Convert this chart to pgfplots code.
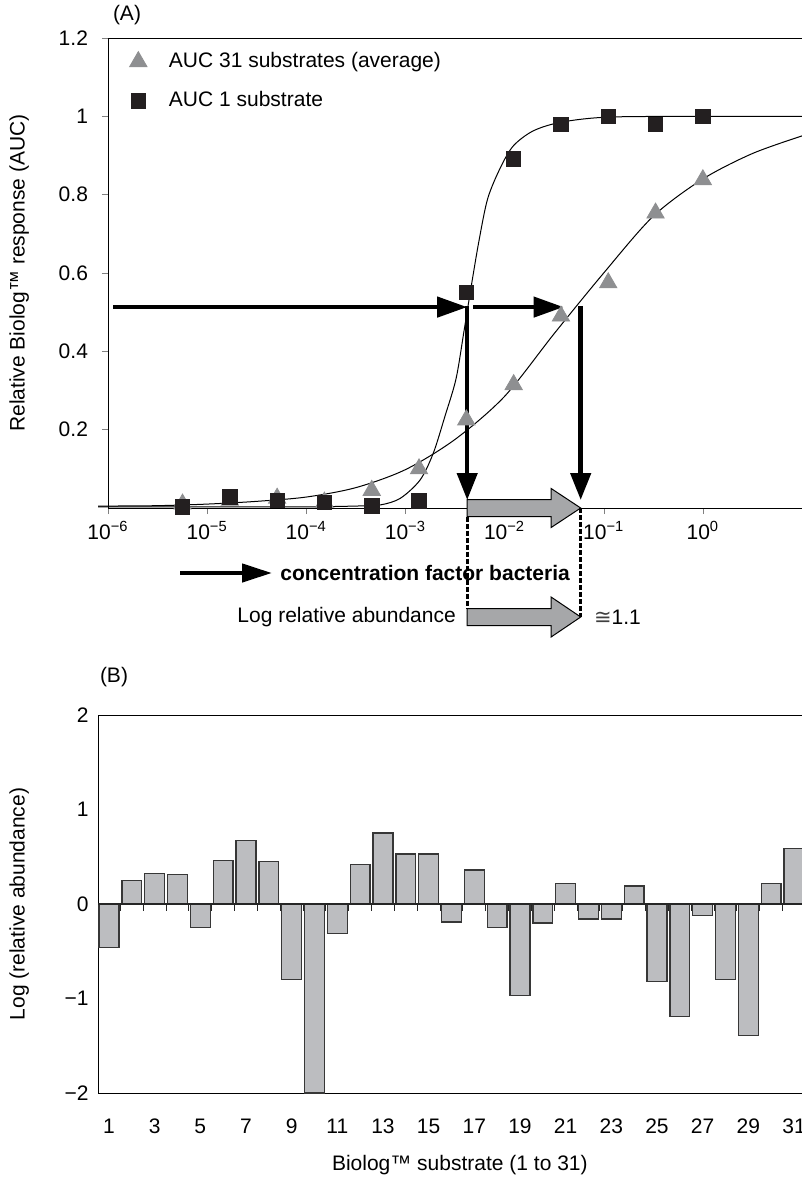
\documentclass[border=0pt]{standalone}
\usepackage{fontspec}
\setmainfont{Liberation Sans}
\newfontfamily\symfont{DejaVu Sans}
\usepackage{pgfplots}
\usepackage{pgfplotstable}
\pgfplotsset{compat=1.18}
\usetikzlibrary{arrows.meta}

\definecolor{trigray}{RGB}{142,143,145}
\definecolor{sqblack}{RGB}{35,31,32}
\definecolor{bargray}{RGB}{188,189,192}
\definecolor{bardraw}{RGB}{55,55,55}
\definecolor{blockgray}{RGB}{166,167,169}

\newcommand{\fs}{\fontsize{10.5}{12.6}\selectfont}

% dilution series 3^-k, k = 11..0
\pgfplotstableread{
x y
5.645e-6 0.010
1.694e-5 0.020
5.081e-5 0.025
1.524e-4 0.015
4.572e-4 0.045
1.372e-3 0.100
4.115e-3 0.225
1.235e-2 0.315
3.704e-2 0.490
0.1111 0.575
0.3333 0.753
1.0 0.838
}\tridata

\pgfplotstableread{
x y
5.645e-6 0.003
1.694e-5 0.028
5.081e-5 0.020
1.524e-4 0.015
4.572e-4 0.005
1.372e-3 0.018
4.115e-3 0.550
1.235e-2 0.891
3.704e-2 0.980
0.1111 1.000
0.3333 0.980
1.0 1.000
}\sqdata

% fitted curves
\pgfplotstableread{
x y
7.94e-7 0.003
1e-5 0.003
1e-4 0.003
3.16e-4 0.005
5.62e-4 0.008
8.91e-4 0.025
1.41e-3 0.072
1.91e-3 0.140
2.51e-3 0.235
3.24e-3 0.330
3.89e-3 0.450
4.57e-3 0.560
5.50e-3 0.680
6.76e-3 0.790
9.12e-3 0.870
1.23e-2 0.925
1.95e-2 0.963
3.72e-2 0.985
0.11 0.998
1 1.000
10 1.000
}\sqfit

\pgfplotstableread{
x y
7.94e-7 0.005
1e-6 0.005
3.16e-6 0.006
1e-5 0.010
3.16e-5 0.017
1e-4 0.028
3.16e-4 0.052
1e-3 0.098
3.16e-3 0.175
1e-2 0.285
3.16e-2 0.445
0.1 0.600
0.316 0.745
1 0.840
3.16 0.905
10 0.950
}\trifit

\pgfplotstableread{
n v
1 -0.46
2 0.25
3 0.32
4 0.31
5 -0.25
6 0.46
7 0.67
8 0.45
9 -0.80
10 -2.00
11 -0.31
12 0.42
13 0.75
14 0.53
15 0.53
16 -0.19
17 0.36
18 -0.25
19 -0.97
20 -0.20
21 0.22
22 -0.16
23 -0.16
24 0.19
25 -0.82
26 -1.19
27 -0.12
28 -0.80
29 -1.39
30 0.22
31 0.59
}\bardata

\begin{document}
\begin{tikzpicture}[font=\fs]
\useasboundingbox (0,0) rectangle (401pt,-591.5pt);

\node[anchor=center] at (63.5pt,-7.5pt) {(A)};
\node[anchor=center] at (57pt,-338.5pt) {(B)};

\begin{axis}[
  at={(54pt,-254pt)}, anchor=south west,
  scale only axis, width=347pt, height=235pt,
  xmode=log, xmin=1e-6, xmax=10, ymin=0, ymax=1.2,
  axis x line*=box, axis y line*=left,
  xtick pos=left, ytick pos=left,
  tick align=outside, major tick length=3pt,
  xminorticks=false,
  xtick={1e-6,1e-5,1e-4,1e-3,1e-2,1e-1,1},
  xticklabels={10\textsuperscript{−6},10\textsuperscript{−5},10\textsuperscript{−4},10\textsuperscript{−3},10\textsuperscript{−2},10\textsuperscript{−1},10\textsuperscript{0}},
  ytick={0.2,0.4,0.6,0.8,1,1.2},
  yticklabels={0.2,0.4,0.6,0.8,1,1.2},
  tick label style={font=\fs},
  yticklabel style={xshift=-3.5pt},
  clip=false,
  ylabel={Relative Biolog™ response (AUC)},
  ylabel style={at={(axis description cs:-0.128,0.5)}, anchor=center, font=\fs},
  legend style={draw=none, fill=none, at={(rel axis cs:0.022,0.987)}, anchor=north west,
    font=\fs, row sep=6.5pt, column sep=9pt},
  legend cell align=left,
]
\addplot[smooth, black, line width=0.5pt, forget plot] table {\trifit};
\addplot[smooth, black, line width=0.5pt, forget plot] table {\sqfit};
\addplot[only marks, mark=triangle*, mark size=5pt, color=trigray] table {\tridata};
\addplot[only marks, mark=square*, mark size=3.6pt, color=sqblack] table {\sqdata};
\legend{AUC 31 substrates (average), AUC 1 substrate}

% arrows
\draw[line width=2.2pt, -{Triangle[length=15pt,width=10pt]}] (axis cs:1.125e-6,0.513) -- (axis cs:4.2e-3,0.513);
\draw[line width=2.2pt, -{Triangle[length=15pt,width=10pt]}] (axis cs:4.86e-3,0.513) -- (axis cs:0.0394,0.513);
\draw[line width=2.2pt, -{Triangle[length=13.5pt,width=10pt]}] (axis cs:4.2e-3,0.516) -- (axis cs:4.2e-3,0.0204);
\draw[line width=2.2pt, -{Triangle[length=13.5pt,width=10pt]}] (axis cs:0.0586,0.516) -- (axis cs:0.0586,0.0204);

\filldraw[fill=blockgray, draw=black, line width=0.5pt]
  (axis cs:4.2e-3,0.0217) -- (axis cs:0.0295,0.0217) -- (axis cs:0.0295,0.0498)
  -- (axis cs:0.0586,0) -- (axis cs:0.0295,-0.0498) -- (axis cs:0.0295,-0.0217)
  -- (axis cs:4.2e-3,-0.0217) -- cycle;
\draw[line width=1.3pt, dash pattern=on 2.5pt off 1pt] (axis cs:4.2e-3,-0.0217) -- (axis cs:4.2e-3,-0.2566);
\draw[line width=1.3pt, dash pattern=on 2.5pt off 1pt] (axis cs:0.0586,0) -- (axis cs:0.0586,-0.2783);
\filldraw[fill=blockgray, draw=black, line width=0.5pt]
  (axis cs:4.2e-3,-0.2566) -- (axis cs:0.0295,-0.2566) -- (axis cs:0.0295,-0.2273)
  -- (axis cs:0.0586,-0.2783) -- (axis cs:0.0295,-0.3293) -- (axis cs:0.0295,-0.3000)
  -- (axis cs:4.2e-3,-0.3000) -- cycle;
\node[anchor=east, inner sep=0pt] at ([xshift=-5.5pt]axis cs:4.2e-3,-0.2783) {Log relative abundance};
\node[anchor=west, inner sep=0pt] at ([xshift=6.5pt]axis cs:0.0586,-0.2783) {{\symfont\color{black!75}≅}1.1};
\end{axis}

\draw[line width=2.2pt, -{Triangle[length=15pt,width=9pt]}] (90pt,-286.5pt) -- (136pt,-286.5pt);
\node[anchor=west, inner sep=0pt, font=\fs\bfseries] at (140pt,-286.5pt) {concentration factor bacteria};

\begin{axis}[
  at={(49pt,-546.5pt)}, anchor=south west,
  scale only axis, width=352pt, height=189pt,
  xmin=0.52, xmax=31.35, ymin=-2, ymax=2,
  axis x line*=box, axis y line*=left,
  xtick pos=left, ytick pos=left,
  xtick={1,3,...,31},
  ytick={-2,-1,0,1,2}, yticklabels={−2,−1,0,1,2},
  x tick style={draw=none}, y tick style={draw=none},
  /pgf/number format/assume math mode=true,
  tick label style={font=\fs},
  xticklabel style={yshift=-5pt},
  yticklabel style={xshift=-1.2pt},
  ybar, bar width=0.87,
  xlabel={Biolog™ substrate (1 to 31)},
  xlabel style={at={(axis description cs:0.514,-0.19)}, anchor=center, font=\fs},
  ylabel={Log (relative abundance)},
  ylabel style={at={(axis description cs:-0.112,0.5)}, anchor=center, font=\fs},
]
\addplot[fill=bargray, draw=bardraw, line width=0.7pt] table {\bardata};
\draw[black!85, line width=0.8pt] (axis cs:0.52,0) -- (axis cs:31.35,0);
\pgfplotsinvokeforeach{1,...,30}{\draw[black!85, line width=0.5pt] (axis cs:#1.5,0) -- ++(0pt,-3.5pt);}
\end{axis}
\end{tikzpicture}
\end{document}
